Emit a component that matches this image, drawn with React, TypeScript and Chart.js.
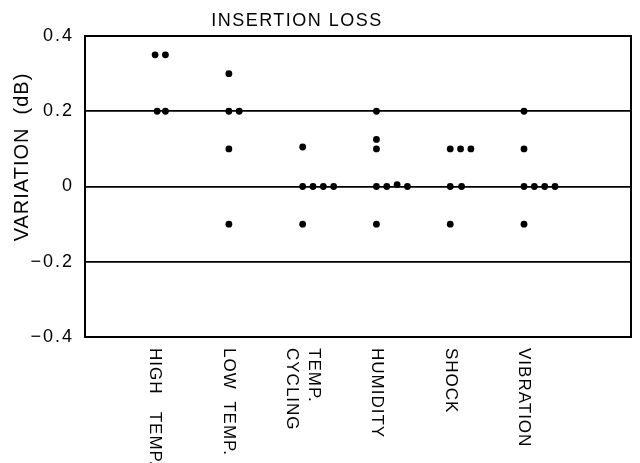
import React, { useEffect, useRef } from "react";
import { Chart, registerables } from "chart.js";

Chart.register(...registerables);

// ---- text ----
const TITLE = "INSERTION LOSS";
const Y_TITLE = "VARIATION  (dB)";
const CATEGORY_LABELS: string[][] = [
  ["HIGH   TEMP."],
  ["LOW  TEMP."],
  ["TEMP.", "CYCLING"],
  ["HUMIDITY"],
  ["SHOCK"],
  ["VIBRATION"],
];
const Y_TICKS = [-0.4, -0.2, 0, 0.2, 0.4];

// ---- data (value, side-by-side slot within the category) ----
const highTempValues = [0.35, 0.35, 0.2, 0.2];
const highTempSlots = [0, 1, 0.2, 1];

const lowTempValues = [0.3, 0.2, 0.2, 0.1, -0.1];
const lowTempSlots = [0, 0, 1, 0, 0];

const tempCyclingValues = [0.105, 0, 0, 0, 0, -0.1];
const tempCyclingSlots = [0, 0, 1, 2, 3, 0];

const humidityValues = [0.2, 0.125, 0.1, 0, 0, 0.005, 0, -0.1];
const humiditySlots = [0, 0, 0, 0, 1, 2, 3, 0];

const shockValues = [0.1, 0.1, 0.1, 0, 0, -0.1];
const shockSlots = [0, 1, 2, 0, 1.1, 0];

const vibrationValues = [0.2, 0.1, 0, 0, 0, 0, -0.1];
const vibrationSlots = [0, 0, 0, 1, 2, 3, 0];

const CATEGORY_VALUES = [
  highTempValues,
  lowTempValues,
  tempCyclingValues,
  humidityValues,
  shockValues,
  vibrationValues,
];
const CATEGORY_SLOTS = [
  highTempSlots,
  lowTempSlots,
  tempCyclingSlots,
  humiditySlots,
  shockSlots,
  vibrationSlots,
];

const SLOT_STEP = 0.14;
const FONT = "'Liberation Sans', Arial, Helvetica, sans-serif";

function fmt(v: number): string {
  const r = Math.round(v * 10) / 10;
  if (r === 0) return "0";
  const s = Math.abs(r).toFixed(1);
  return r < 0 ? "\u2212" + s : s;
}

const decorPlugin = {
  id: "decor",
  beforeDraw(chart: any) {
    (chart.ctx as any).letterSpacing = "2px";
  },
  afterDraw(chart: any) {
    const { ctx, chartArea } = chart;
    ctx.save();
    // frame
    ctx.strokeStyle = "#000";
    ctx.lineWidth = 2;
    ctx.strokeRect(
      chartArea.left,
      chartArea.top,
      chartArea.right - chartArea.left,
      chartArea.bottom - chartArea.top
    );

    ctx.fillStyle = "#000";
    // title
    (ctx as any).letterSpacing = "1.5px";
    ctx.font = `18px ${FONT}`;
    ctx.textAlign = "center";
    ctx.textBaseline = "alphabetic";
    ctx.fillText(TITLE, 297, 26);

    // y title
    ctx.save();
    (ctx as any).letterSpacing = "1px";
    ctx.font = `20px ${FONT}`;
    ctx.translate(22, 157);
    ctx.rotate(-Math.PI / 2);
    ctx.textAlign = "center";
    ctx.textBaseline = "middle";
    ctx.fillText(Y_TITLE, 0, 0);
    ctx.restore();

    // category labels, rotated clockwise
    const xs = chart.scales.x;
    (ctx as any).letterSpacing = "1px";
    ctx.font = `17px ${FONT}`;
    CATEGORY_LABELS.forEach((lines, i) => {
      const px = xs.getPixelForValue(i);
      ctx.save();
      ctx.translate(px, chartArea.bottom + 11);
      ctx.rotate(Math.PI / 2);
      ctx.textAlign = "left";
      ctx.textBaseline = "middle";
      const n = lines.length;
      lines.forEach((line, j) => {
        ctx.fillText(line, 0, (j - (n - 1) / 2) * 22);
      });
      ctx.restore();
    });
    ctx.restore();
  },
};

export default function App() {
  const canvasRef = useRef<HTMLCanvasElement | null>(null);

  useEffect(() => {
    const canvas = canvasRef.current;
    if (!canvas) return;

    const points: { x: number; y: number }[] = [];
    CATEGORY_VALUES.forEach((vals, i) => {
      vals.forEach((v, k) => {
        points.push({ x: i + CATEGORY_SLOTS[i][k] * SLOT_STEP, y: v });
      });
    });

    const chart = new Chart(canvas, {
      type: "scatter",
      data: {
        datasets: [
          {
            label: TITLE,
            data: points,
            backgroundColor: "#000",
            borderColor: "#000",
            borderWidth: 0,
            pointRadius: 3.4,
            pointHoverRadius: 3.4,
          },
        ],
      },
      options: {
        responsive: false,
        animation: false,
        devicePixelRatio: 1,
        layout: { padding: { top: 36, right: 9, left: 0, bottom: 0 } },
        plugins: {
          legend: { display: false },
          title: { display: false },
          tooltip: { enabled: false },
        },
        scales: {
          x: {
            type: "linear",
            min: -0.95,
            max: 6.45,
            grid: { display: false },
            border: { display: true, color: "#000", width: 2 },
            ticks: { display: false },
            afterFit: (scale: any) => {
              scale.height = 126;
            },
          },
          y: {
            type: "linear",
            min: -0.4,
            max: 0.4,
            afterBuildTicks: (scale: any) => {
              scale.ticks = Y_TICKS.map((v) => ({ value: v }));
            },
            grid: {
              color: "#000",
              lineWidth: 1.8,
              drawTicks: false,
            },
            border: { display: true, color: "#000", width: 2 },
            ticks: {
              color: "#000",
              padding: 11,
              font: { family: FONT, size: 18 },
              callback: (v: any) => fmt(Number(v)),
            },
            afterFit: (scale: any) => {
              scale.width = 85;
            },
          },
        },
      },
      plugins: [decorPlugin],
    });

    return () => chart.destroy();
  }, []);

  return (
    <div style={{ position: "fixed", left: 0, top: 0, width: 640, height: 463, background: "#fff" }}>
      <canvas ref={canvasRef} width={640} height={463} style={{ display: "block" }} />
    </div>
  );
}
